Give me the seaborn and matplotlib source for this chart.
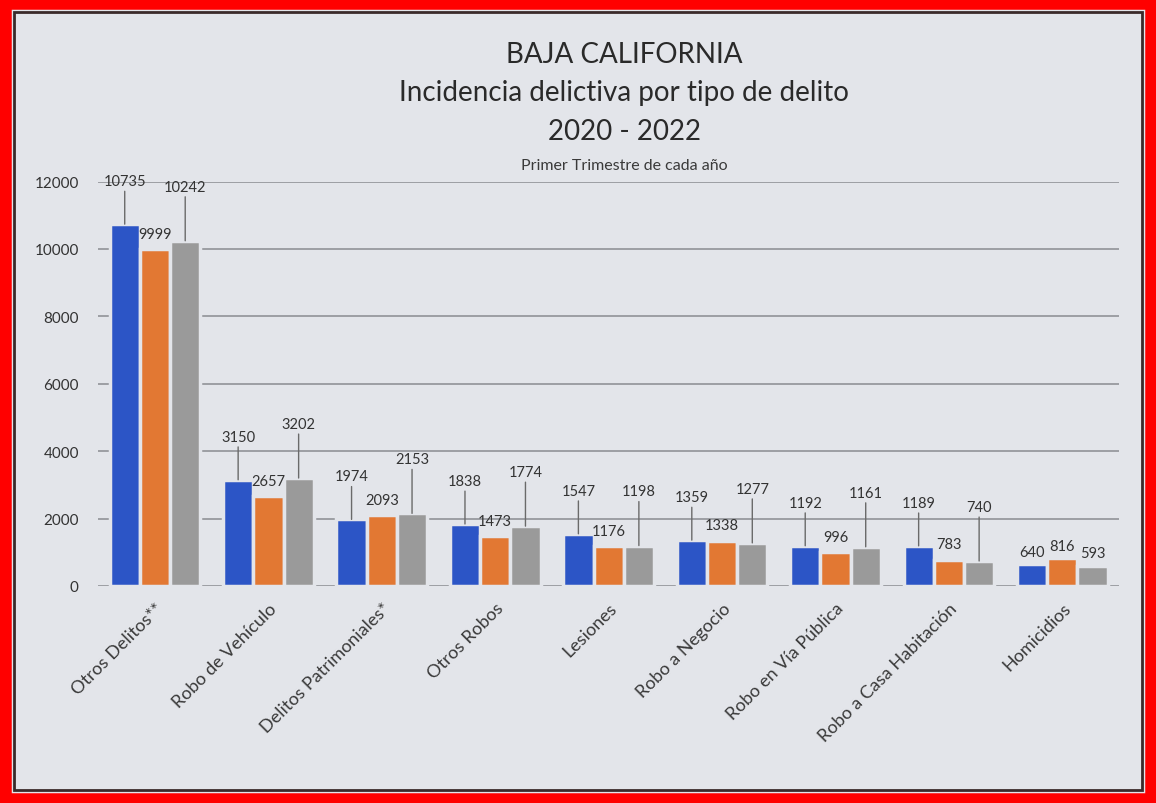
import pandas as pd
import matplotlib.pyplot as plt
import seaborn as sns
from matplotlib.patches import Rectangle

# datos (primer trimestre de cada año)
categorias = ['Otros Delitos**', 'Robo de Vehículo', 'Delitos Patrimoniales*', 'Otros Robos',
              'Lesiones', 'Robo a Negocio', 'Robo en Vía Pública', 'Robo a Casa Habitación',
              'Homicidios']
anios = ['2020', '2021', '2022']
v2020 = [10735, 3150, 1974, 1838, 1547, 1359, 1192, 1189, 640]
v2021 = [9999, 2657, 2093, 1473, 1176, 1338, 996, 783, 816]
v2022 = [10242, 3202, 2153, 1774, 1198, 1277, 1161, 740, 593]

df = pd.DataFrame({
    'delito': categorias * 3,
    'anio': [anios[0]] * 9 + [anios[1]] * 9 + [anios[2]] * 9,
    'casos': v2020 + v2021 + v2022,
})

sns.set_style('white')
plt.rcParams['font.family'] = ['Lato', 'DejaVu Sans']

bg = '#e3e5ea'
fig = plt.figure(figsize=(11.56, 8.04), dpi=100, facecolor=bg)
ax = fig.add_axes([0.085, 0.27, 0.883, 0.503])
ax.set_facecolor(bg)

colores = ['#2c55c6', '#e27833', '#9a9a9a']
sns.barplot(data=df, x='delito', y='casos', hue='anio', palette=colores, saturation=1,
            width=0.8, edgecolor=bg, linewidth=2.5, ax=ax, legend=False)

ax.set_ylim(0, 12000)
ax.set_yticks(range(0, 12001, 2000))
ax.yaxis.grid(True, color='#8a8c90', linewidth=1.1)
ax.set_axisbelow(True)
for s in ax.spines.values():
    s.set_visible(False)
ax.tick_params(axis='y', length=0, labelsize=11, labelcolor='#333333', pad=14)
ax.tick_params(axis='x', length=0, labelsize=13, labelcolor='#3a3a3a', pad=10)
ax.set_xticks(range(len(categorias)))
ax.set_xticklabels(categorias, rotation=45, ha='right', rotation_mode='anchor')
ax.set_xlabel('')
ax.set_ylabel('')

# etiquetas con lineas guia como en excel
desplaz = [26, 6, 34]
for i, cont in enumerate(ax.containers):
    for j, bar in enumerate(cont):
        h = bar.get_height()
        off = desplaz[i] if j < 8 else 4
        ax.annotate(f'{int(h)}', (bar.get_x() + bar.get_width() / 2, h),
                    xytext=(0, off), textcoords='offset points', ha='center', va='bottom',
                    fontsize=10.5, color='#333333', annotation_clip=False,
                    arrowprops=dict(arrowstyle='-', color='#6a6a6a', lw=1,
                                    shrinkA=0, shrinkB=0) if off > 8 else None)

fig.text(0.54, 0.922, 'BAJA CALIFORNIA', ha='center', fontsize=20, color='#2a2a2a')
fig.text(0.54, 0.875, 'Incidencia delictiva por tipo de delito', ha='center', fontsize=20,
         color='#2a2a2a')
fig.text(0.54, 0.826, '2020 - 2022', ha='center', fontsize=20, color='#2a2a2a')
fig.text(0.54, 0.788, 'Primer Trimestre de cada año', ha='center', fontsize=11.5,
         color='#3a3a3a')

# marco rojo
fig.patches.append(Rectangle((0.004, 0.005), 0.992, 0.99, transform=fig.transFigure,
                             fill=False, edgecolor='#ff0000', linewidth=9))
fig.patches.append(Rectangle((0.012, 0.016), 0.976, 0.968, transform=fig.transFigure,
                             fill=False, edgecolor='#3a2a2a', linewidth=2))

fig.savefig('out.png', dpi=100, facecolor=bg)
